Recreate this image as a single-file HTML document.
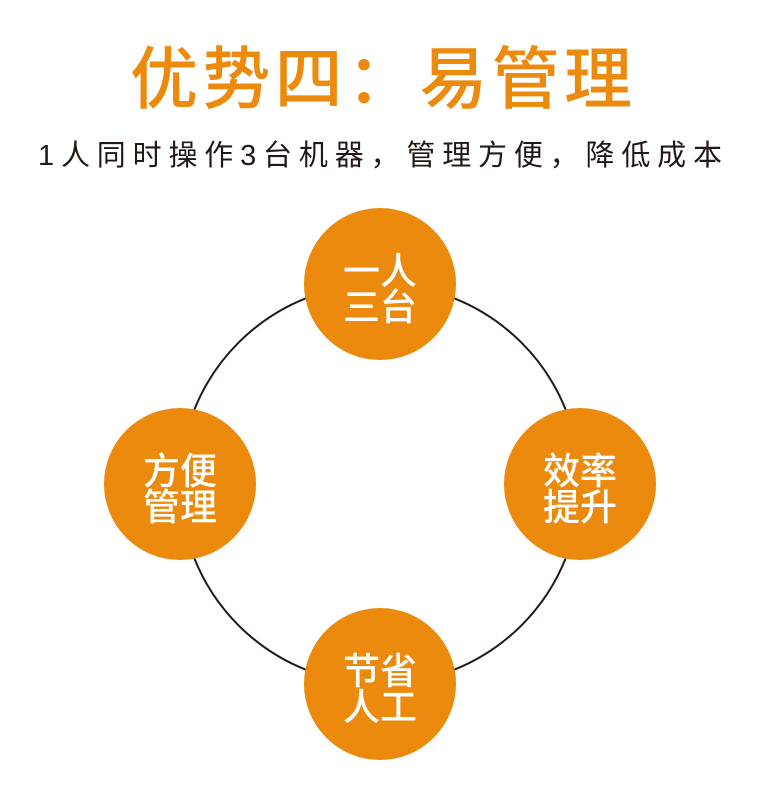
<!DOCTYPE html>
<html><head><meta charset="utf-8"><style>
html,body{margin:0;padding:0;background:#fff;}
svg{display:block;}
text{font-family:"Liberation Sans","Noto Sans CJK SC",sans-serif;}
</style></head><body>
<svg width="760" height="803" viewBox="0 0 760 803">
<text x="381" y="103" text-anchor="middle" font-size="68" font-weight="500" fill="#EB8A0C" textLength="502" lengthAdjust="spacing">优势四：易管理</text>
<text x="380" y="165" text-anchor="middle" font-size="29" fill="#231815" textLength="684" lengthAdjust="spacing">1人同时操作3台机器，管理方便，降低成本</text>
<circle cx="380" cy="484" r="200" fill="none" stroke="#231815" stroke-width="2"/>
<g fill="#EB8A0C">
<circle cx="380" cy="284" r="76"/>
<circle cx="580" cy="484" r="76"/>
<circle cx="380" cy="684" r="76"/>
<circle cx="180" cy="484" r="76"/>
</g>
<g fill="#fff" font-size="37" font-weight="500" text-anchor="middle">
<text x="380" y="284">一人</text><text x="380" y="320">三台</text>
<text x="580" y="484">效率</text><text x="580" y="520">提升</text>
<text x="380" y="684">节省</text><text x="380" y="720">人工</text>
<text x="180" y="484">方便</text><text x="180" y="520">管理</text>
</g>
</svg>
</body></html>
